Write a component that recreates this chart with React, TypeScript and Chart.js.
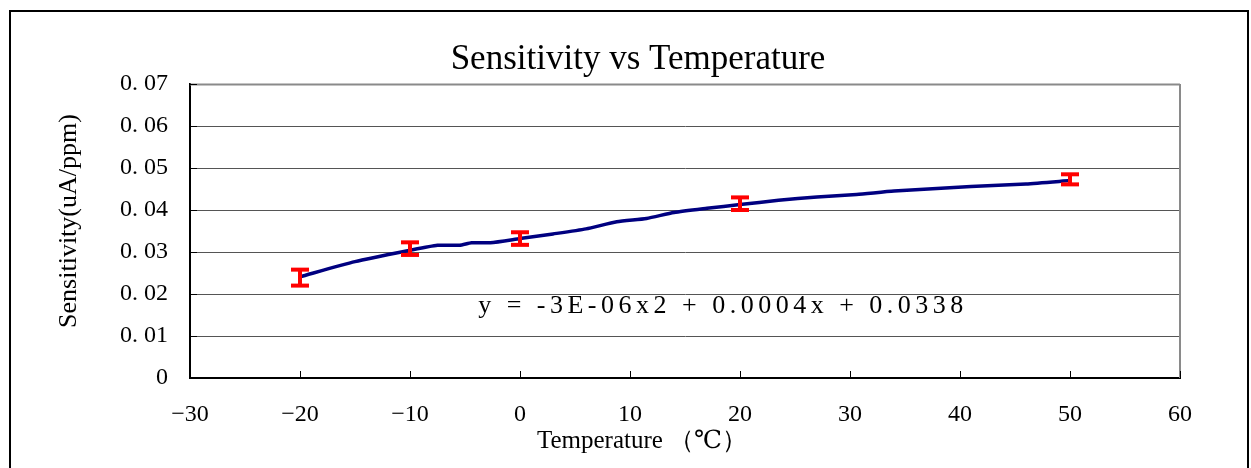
import React, { useEffect, useRef } from 'react';
import { Chart, registerables } from 'chart.js';

Chart.register(...registerables);

// Smoothed curve
const curveTemps = [-20, -15, -10, -7.5, -5.5, -4.4, -2.7, 0, 3, 6, 8.8, 11.5, 14, 17, 20, 23.5, 27, 30.6, 34, 41, 46, 50];
const curveValues = [0.0241, 0.0277, 0.0304, 0.0316, 0.0316, 0.0322, 0.0322, 0.0332, 0.0343, 0.0355, 0.0372, 0.0380, 0.0394, 0.0404, 0.0413, 0.0423, 0.0431, 0.0437, 0.0445, 0.0456, 0.0462, 0.047];

// Measured points with error bars
const barTemps = [-20, -10, 0, 20, 50];
const barMeans = [0.0239, 0.0308, 0.0332, 0.0415, 0.0473];
const barErrors = [0.0019, 0.0015, 0.0015, 0.0015, 0.0012];

const xMin = -30;
const xMax = 60;
const xStep = 10;
const yMin = 0;
const yMax = 0.07;
const yStep = 0.01;

const chartTitle = 'Sensitivity vs Temperature';
const xTitle = 'Temperature （℃）';
const yTitle = 'Sensitivity(uA/ppm)';
const equationText = 'y = -3E-06x2 + 0.0004x + 0.0338';

const SERIF = '"Liberation Serif", "DejaVu Serif", serif';

const decorPlugin = {
  id: 'decor',
  afterDraw(chart: any) {
    const ctx = chart.ctx as CanvasRenderingContext2D;
    const area = chart.chartArea;
    const xs = chart.scales.x;
    const ys = chart.scales.y;
    ctx.save();

    // plot area top/right border
    ctx.strokeStyle = '#8a8a8a';
    ctx.lineWidth = 2;
    ctx.beginPath();
    ctx.moveTo(area.left, area.top + 0.5);
    ctx.lineTo(area.right, area.top + 0.5);
    ctx.moveTo(area.right, area.top);
    ctx.lineTo(area.right, area.bottom);
    ctx.stroke();

    // inward tick marks
    ctx.strokeStyle = '#000';
    ctx.lineWidth = 1;
    ctx.beginPath();
    xs.ticks.forEach((t: any) => {
      const px = Math.round(xs.getPixelForValue(t.value)) + 0.5;
      ctx.moveTo(px, area.bottom);
      ctx.lineTo(px, area.bottom - 7);
    });
    ys.ticks.forEach((t: any) => {
      const py = Math.round(ys.getPixelForValue(t.value)) + 0.5;
      ctx.moveTo(area.left, py);
      ctx.lineTo(area.left + 7, py);
    });
    ctx.stroke();

    // outer frame
    ctx.strokeStyle = '#000';
    ctx.lineWidth = 2;
    ctx.strokeRect(10, 11, 1238, 480);

    ctx.fillStyle = '#000';
    ctx.textAlign = 'center';
    ctx.textBaseline = 'middle';

    // title
    ctx.font = `35px ${SERIF}`;
    ctx.fillText(chartTitle, 638, 60);

    // x axis title
    ctx.font = `25px ${SERIF}`;
    ctx.fillText(xTitle, 642, 441);

    // trendline equation
    ctx.font = `26px ${SERIF}`;
    (ctx as any).letterSpacing = '4.5px';
    ctx.fillText(equationText, 723, 306);
    (ctx as any).letterSpacing = '0px';

    // y axis title
    ctx.translate(69, 221);
    ctx.rotate(-Math.PI / 2);
    ctx.font = `26px ${SERIF}`;
    ctx.fillText(yTitle, 0, 0);

    ctx.restore();
  },
};

export default function App() {
  const canvasRef = useRef<HTMLCanvasElement | null>(null);

  useEffect(() => {
    const canvas = canvasRef.current;
    if (!canvas) return;

    const curveData = curveTemps.map((t, i) => ({ x: t, y: curveValues[i] }));
    const stemData: any[] = [];
    const capData: any[] = [];
    barTemps.forEach((t, i) => {
      const lo = barMeans[i] - barErrors[i];
      const hi = barMeans[i] + barErrors[i];
      stemData.push({ x: t, y: lo }, { x: t, y: hi }, { x: t, y: null });
      capData.push({ x: t, y: lo }, { x: t, y: hi });
    });

    const chart = new Chart(canvas, {
      type: 'line',
      data: {
        datasets: [
          {
            label: 'caps',
            data: capData,
            showLine: false,
            pointStyle: 'line',
            pointRadius: 9,
            pointBorderWidth: 4,
            pointBorderColor: '#ff0000',
            pointBackgroundColor: '#ff0000',
            borderColor: '#ff0000',
          },
          {
            label: 'stems',
            data: stemData,
            borderColor: '#ff0000',
            borderWidth: 4,
            pointRadius: 0,
            spanGaps: false,
          },
          {
            label: 'Sensitivity',
            data: curveData,
            borderColor: '#000080',
            borderWidth: 3.5,
            pointRadius: 0,
            tension: 0.2,
            fill: false,
          },
        ],
      },
      options: {
        responsive: false,
        animation: false,
        events: [],
        layout: { padding: { left: 0, right: 71, top: 84, bottom: 0 } },
        plugins: {
          legend: { display: false },
          title: { display: false },
          tooltip: { enabled: false },
        },
        scales: {
          x: {
            type: 'linear',
            min: xMin,
            max: xMax,
            ticks: {
              stepSize: xStep,
              color: '#000',
              font: { family: SERIF, size: 24 },
              padding: 22,
              maxRotation: 0,
              callback: (v: any) => String(v).replace('-', '−'),
            },
            grid: { display: false, drawTicks: false },
            border: { display: true, color: '#000', width: 2 },
            afterFit: (scale: any) => {
              scale.height = 90;
            },
          },
          y: {
            type: 'linear',
            min: yMin,
            max: yMax,
            ticks: {
              stepSize: yStep,
              color: '#000',
              font: { family: SERIF, size: 24 },
              padding: 22,
              callback: (v: any) => (Number(v) === 0 ? '0' : Number(v).toFixed(2).replace('.', '. ')),
            },
            grid: { color: '#555', lineWidth: 1, drawTicks: false },
            border: { display: true, color: '#000', width: 2 },
            afterFit: (scale: any) => {
              scale.width = 190;
            },
          },
        },
      },
      plugins: [decorPlugin],
    });

    return () => chart.destroy();
  }, []);

  return (
    <div style={{ position: 'fixed', left: 0, top: 0, width: 1251, height: 468, background: '#fff' }}>
      <canvas ref={canvasRef} width={1251} height={468} style={{ display: 'block' }} />
    </div>
  );
}
